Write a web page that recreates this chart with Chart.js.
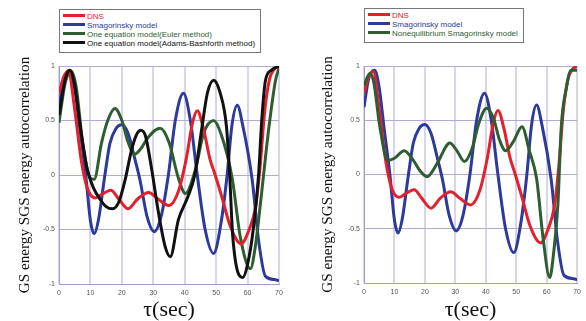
<!DOCTYPE html>
<html>
<head>
<meta charset="utf-8">
<script src="https://cdn.jsdelivr.net/npm/chart.js@4/dist/chart.umd.min.js"></script>
<style>
  body { margin: 0; background: #fff; width: 586px; height: 321px; position: relative; overflow: hidden; }
  canvas { position: absolute; top: 0; }
  .legend { position: absolute; border: 1px solid #777; background: #fff; padding: 3px 5px 3px 3px;
    font: 8px "Liberation Sans", Arial, sans-serif; line-height: 8.9px; }
  .legend div { white-space: nowrap; }
  .legend span.sw { display: inline-block; width: 22px; height: 3px; vertical-align: middle; margin-right: 2px; margin-top: -2px; }
</style>
</head>
<body>
<canvas id="left" width="293" height="321" style="left:0"></canvas>
<canvas id="right" width="293" height="321" style="left:293px"></canvas>
<div class="legend" id="legL" style="left:59px; top:9px"></div>
<div class="legend" id="legR" style="left:364px; top:8px"></div>
<script>
// series names
const seriesNames = ['DNS', 'Smagorinsky model', 'One equation model(Euler method)',
  'One equation model(Adams-Bashforth method)', 'Nonequilibrium Smagorinsky model'];
const seriesColors = ['#e3202b', '#2c3a9c', '#2f5d32', '#111111', '#2f5d32'];

// DNS
const dnsT = [0, 1.5, 3, 5, 7, 9, 11.5, 13.5, 16.5, 19, 22, 25, 28.5, 31.5, 35, 38, 40.5, 42.5, 44, 46, 48, 49.7, 52, 54.5, 58, 60.5, 62.5, 64, 65.5, 67, 68.5, 70];
const dnsV = [0.75, 0.9, 0.95, 0.6, 0.15, -0.12, -0.21, -0.18, -0.14, -0.22, -0.31, -0.22, -0.16, -0.22, -0.28, -0.15, 0.15, 0.48, 0.59, 0.42, 0.15, 0.0, -0.22, -0.47, -0.63, -0.5, -0.3, 0.08, 0.6, 0.88, 0.97, 1.0];

// Smagorinsky model
const smagT = [0, 1.5, 3.5, 5, 6.5, 8.5, 10, 11.2, 12.5, 14.6, 16.2, 18, 20, 22, 24.2, 25.8, 28, 30.3, 32.5, 34.8, 37, 39.6, 41.8, 43.9, 46.5, 49.2, 51.5, 53.5, 55, 56.7, 58.5, 61.5, 63.5, 65.7, 68.9, 70];
const smagV = [0.62, 0.88, 0.96, 0.8, 0.45, 0.0, -0.42, -0.54, -0.42, 0.0, 0.29, 0.42, 0.46, 0.38, 0.14, -0.05, -0.38, -0.52, -0.38, 0.0, 0.5, 0.75, 0.5, 0.02, -0.5, -0.72, -0.45, 0.0, 0.45, 0.64, 0.45, -0.05, -0.6, -0.93, -0.96, -0.97];

// One equation model (Euler)
const eulerT = [0, 2, 4, 5.5, 7.5, 9.5, 11.2, 13.5, 15.5, 17.8, 20, 22, 24, 26, 28, 30.6, 32.2, 35, 38, 40.2, 43.4, 46, 49.2, 51.5, 55.1, 57.7, 60.9, 62.5, 64.1, 66.8, 68.9, 70];
const eulerV = [0.48, 0.85, 0.95, 0.8, 0.3, 0.0, -0.04, 0.29, 0.5, 0.61, 0.5, 0.3, 0.19, 0.24, 0.33, 0.41, 0.43, 0.3, -0.03, -0.17, 0.05, 0.38, 0.5, 0.38, -0.03, -0.57, -0.86, -0.65, -0.26, 0.44, 0.87, 0.98];

// One equation model (Adams-Bashforth)
const abT = [0, 2, 3.5, 5, 7, 9, 11, 13, 15, 17, 19, 21, 23, 24.5, 26, 27.5, 29.5, 31.5, 33.8, 35.4, 38, 41, 43.2, 45.5, 47.2, 49.2, 51.2, 53.3, 54.3, 55.3, 58.5, 60, 61.8, 63.5, 64.5, 65.7, 67.5, 70];
const abV = [0.55, 0.88, 0.96, 0.82, 0.4, 0.05, -0.12, -0.22, -0.29, -0.31, -0.25, -0.05, 0.22, 0.36, 0.41, 0.36, 0.05, -0.32, -0.66, -0.75, -0.41, -0.2, 0.0, 0.44, 0.75, 0.87, 0.76, 0.44, 0.0, -0.57, -0.94, -0.82, -0.5, 0.0, 0.5, 0.87, 0.96, 1.0];

// Nonequilibrium Smagorinsky model
const noneqT = [0, 1.9, 3.2, 5.2, 7.8, 10, 13.2, 16, 18.5, 20.7, 24, 28.2, 30.5, 33, 35.5, 37.8, 40.3, 42.5, 44.5, 46.5, 49, 51.9, 54.3, 56.7, 58.8, 61, 62.3, 63.7, 64.8, 66.5, 68, 70];
const noneqV = [0.82, 0.93, 0.85, 0.44, 0.13, 0.15, 0.22, 0.14, 0.03, -0.02, 0.1, 0.29, 0.22, 0.12, 0.24, 0.48, 0.61, 0.52, 0.32, 0.22, 0.3, 0.44, 0.22, -0.04, -0.58, -0.95, -0.72, -0.27, 0.44, 0.8, 0.96, 0.96];

const pts = (t, v) => t.map((x, i) => ({ x: x, y: v[i] }));

function makeSet(idx, t, v) {
  return {
    label: seriesNames[idx],
    data: pts(t, v),
    borderColor: seriesColors[idx],
    backgroundColor: seriesColors[idx],
    borderWidth: 3,
    pointRadius: 0,
    cubicInterpolationMode: 'monotone',
    fill: false
  };
}

function makeOptions(yWidth, xHeight, titlePad, rightPad) {
  return {
    responsive: false,
    animation: false,
    devicePixelRatio: 1,
    layout: { padding: { top: 66, right: rightPad, bottom: 0, left: 0 } },
    plugins: { legend: { display: false }, tooltip: { enabled: false } },
    scales: {
      x: {
        type: 'linear', min: 0, max: 70,
        afterFit: s => { s.height = xHeight; },
        ticks: { stepSize: 10, padding: 5, color: '#555', font: { size: 7, family: 'Liberation Sans' } },
        grid: { color: '#d9d5e8', lineWidth: 2, drawTicks: false },
        border: { color: '#a79bcb', width: 1 },
        title: { display: true, text: 'τ(sec)', color: '#111', padding: { top: 0, bottom: 0 },
          font: { size: 22, family: 'Liberation Serif', lineHeight: 1 } }
      },
      y: {
        min: -1, max: 1,
        afterFit: s => { s.width = yWidth; },
        ticks: { stepSize: 0.5, padding: 4, color: '#555', font: { size: 7, family: 'Liberation Sans' },
          callback: v => String(v) },
        grid: { color: '#b3a9d2', lineWidth: 1, drawTicks: false },
        border: { color: '#a79bcb', width: 1 },
        title: { display: true, text: 'GS energy SGS energy autocorrelation', color: '#111',
          padding: { top: titlePad, bottom: 0 },
          font: { size: 15.2, family: 'Liberation Serif', lineHeight: 1 } }
      }
    }
  };
}

new Chart(document.getElementById('left'), {
  type: 'line',
  data: { datasets: [
    makeSet(3, abT, abV),
    makeSet(0, dnsT, dnsV),
    makeSet(2, eulerT, eulerV),
    makeSet(1, smagT, smagV)
  ] },
  options: makeOptions(59, 37, 17, 14)
});

new Chart(document.getElementById('right'), {
  type: 'line',
  data: { datasets: [
    makeSet(4, noneqT, noneqV),
    makeSet(0, dnsT, dnsV),
    makeSet(1, smagT, smagV)
  ] },
  options: makeOptions(71, 38, 27, 5)
});

function buildLegend(id, idxs) {
  const box = document.getElementById(id);
  idxs.forEach(i => {
    const row = document.createElement('div');
    row.style.color = seriesColors[i];
    row.innerHTML = '<span class="sw" style="background:' + seriesColors[i] + '"></span>' + seriesNames[i];
    box.appendChild(row);
  });
}
buildLegend('legL', [0, 1, 2, 3]);
buildLegend('legR', [0, 1, 4]);
</script>
</body>
</html>
